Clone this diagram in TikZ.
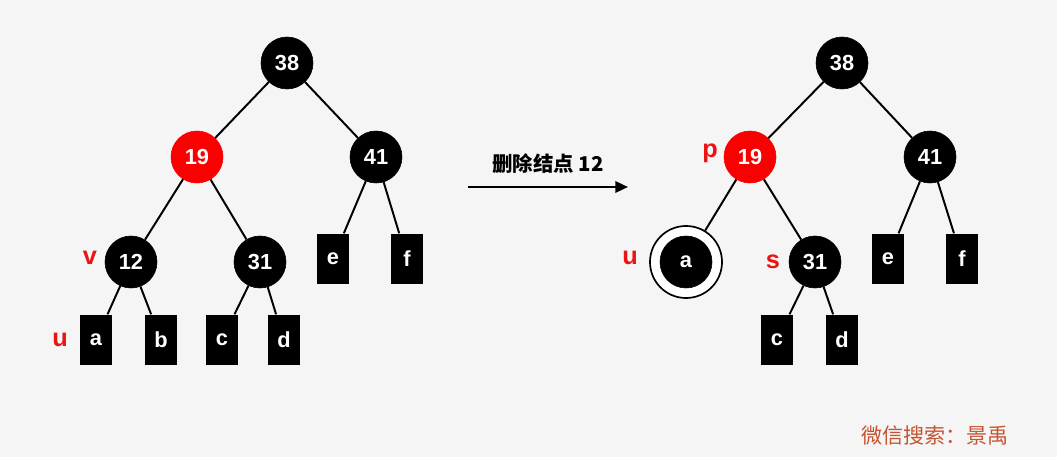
\documentclass[tikz,border=0pt]{standalone}
\usepackage{fontspec}
\setmainfont{Liberation Sans}
\newfontfamily\cjk{Noto Sans CJK SC}
\usepackage{xcolor}
\usetikzlibrary{positioning, arrows.meta, calc}
\definecolor{pagebg}{RGB}{245,245,245}
\definecolor{rbred}{RGB}{250,0,0}
\definecolor{mark}{RGB}{235,20,20}
\definecolor{wmark}{RGB}{196,84,50}
\tikzset{
  bnode/.style={
    circle, draw=black, fill=black, minimum size=1.3cm,
    inner sep=0pt, text=white, font=\fontsize{15.5}{15.5}\selectfont\bfseries
  },
  rnode/.style={bnode, fill=rbred, draw=rbred},
  leaf/.style={
    rectangle, fill=black, minimum width=0.82cm, minimum height=1.27cm,
    inner sep=0pt, text=white, font=\fontsize{15.5}{15.5}\selectfont\bfseries
  },
  ring/.style={circle, draw=black, line width=1.2pt, fill=white, minimum size=1.8cm},
  tag/.style={text=mark, font=\fontsize{18}{18}\selectfont\bfseries},
  link/.style={draw, line width=1.4pt},
}
\begin{document}
\begin{tikzpicture}[x=0.025cm, y=-0.025cm]
  \fill[pagebg] (0,0) rectangle (1057,457);
  \useasboundingbox (0,0) rectangle (1057,457);

  % before
  \node[bnode] (L38) at (287,63) {38};
  \node[rnode] (L19) at (197,157) {19};
  \node[bnode] (L41) at (376,157) {41};
  \node[bnode] (L12) at (131,262) {12};
  \node[bnode] (L31) at (260,262) {31};
  \node[leaf] (Le) at (333,259) {e};
  \node[leaf] (Lf) at (407,259) {f};
  \node[leaf] (La) at (96,340) {a};
  \node[leaf] (Lb) at (161,340) {b};
  \node[leaf] (Lc) at (222,340) {c};
  \node[leaf] (Ld) at (284,340) {d};
  \node[tag] (Lv) at (90,258) {v};
  \node[tag] (Lu) at (60,340) {u};

  \path[link] (L38) -- (L19) (L38) -- (L41)
              (L19) -- (L12) (L19) -- (L31)
              (L41) -- (Le) (L41) -- (Lf)
              (L12) -- (La) (L12) -- (Lb)
              (L31) -- (Lc) (L31) -- (Ld);

  % arrow
  \coordinate (from) at (468,187);
  \coordinate (to) at (628,187);
  \draw[line width=1.8pt, -{Triangle[length=9pt,width=8pt]}] (from) -- (to)
    node[midway, above=5pt, font=\cjk\fontsize{14.5}{14.5}\selectfont\bfseries] (op) {删除结点 12};

  % after
  \node[bnode] (R38) at (842,63) {38};
  \node[rnode] (R19) at (750,157) {19};
  \node[bnode] (R41) at (930,157) {41};
  \node[ring] (Rring) at (686,262) {};
  \node[bnode] (Ra) at (686,262) {a};
  \node[bnode] (R31) at (815,262) {31};
  \node[leaf] (Re) at (888,259) {e};
  \node[leaf] (Rf) at (962,259) {f};
  \node[leaf] (Rc) at (777,340) {c};
  \node[leaf] (Rd) at (842,340) {d};
  \node[tag] (Rp) at (710,153) {p};
  \node[tag] (Ru) at (630,258) {u};
  \node[tag] (Rs) at (773,262) {s};

  \path[link] (R38) -- (R19) (R38) -- (R41)
              (R19) -- (Rring) (R19) -- (R31)
              (R41) -- (Re) (R41) -- (Rf)
              (R31) -- (Rc) (R31) -- (Rd);

  \node[text=wmark, font=\cjk\fontsize{15}{15}\selectfont] (wm) at (935,436) {微信搜索：景禹};
\end{tikzpicture}
\end{document}
